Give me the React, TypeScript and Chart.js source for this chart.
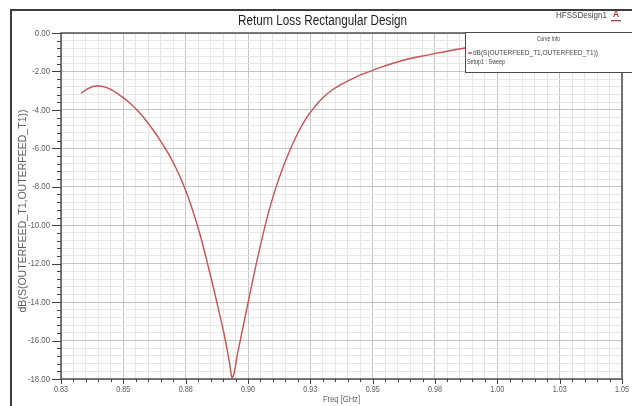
import React, { useEffect, useRef } from "react";
import { Chart, registerables } from "chart.js";

Chart.register(...registerables);

// Sweep of the return loss, frequency in GHz and S11 in dB
const FREQ_GHZ = [
  0.833, 0.8358, 0.839, 0.8423, 0.8455, 0.8487, 0.8519, 0.8551, 0.8583, 0.8615,
  0.8647, 0.8679, 0.8711, 0.8743, 0.8775, 0.8808, 0.884, 0.8872, 0.8904, 0.8924,
  0.8938, 0.896, 0.8988, 0.9016, 0.9048, 0.908, 0.9108, 0.914, 0.9168, 0.92,
  0.9235, 0.927, 0.9302, 0.9336, 0.9369, 0.9436, 0.9489, 0.9529, 0.9623, 0.969,
  0.9757, 0.987, 1.0, 1.025, 1.05,
];
const S11_DB = [
  -3.14, -2.89, -2.76, -2.8, -2.97, -3.25, -3.56, -3.95, -4.42, -4.97,
  -5.57, -6.24, -7.02, -7.96, -9.1, -10.51, -12.12, -13.84, -15.66, -17.01,
  -17.92, -16.55, -14.8, -13.05, -11.15, -9.45, -8.2, -7.0, -6.1, -5.2,
  -4.4, -3.8, -3.34, -2.98, -2.71, -2.27, -2.0, -1.8, -1.42, -1.22,
  -1.05, -0.78, -0.55, -0.27, -0.1,
];

const X_TICK_LABELS = ["0.83", "0.85", "0.88", "0.90", "0.93", "0.95", "0.98", "1.00", "1.03", "1.05"];
const Y_TICK_LABELS = ["-18.00", "-16.00", "-14.00", "-12.00", "-10.00", "-8.00", "-6.00", "-4.00", "-2.00", "0.00"];

const X_MIN = 0.825;
const X_MAX = 1.05;
const X_MINOR_STEP = 0.005;
const Y_MIN = -18;
const Y_MAX = 0;
const Y_MINOR_STEP = 0.4;
const MINOR_PER_MAJOR = 5;

const TITLE = "Return Loss Rectangular Design";
const DESIGN_NAME = "HFSSDesign1";
const X_TITLE = "Freq [GHz]";
const Y_TITLE = "dB(S(OUTERFEED_T1,OUTERFEED_T1))";
const LEGEND_HEADER = "Curve Info";
const LEGEND_TRACE = "dB(S(OUTERFEED_T1,OUTERFEED_T1))";
const LEGEND_SETUP = "Setup1 : Sweep";

const SANS = '"Liberation Sans", Arial, sans-serif';
const TRACE_COLOR = "rgb(198, 82, 82)";

// Text squeezed horizontally to a given width (narrow UI font look)
function drawFitted(ctx: any, text: string, x: number, y: number, size: number, width: number, align: string) {
  ctx.font = `${size}px ${SANS}`;
  const w = ctx.measureText(text).width || 1;
  ctx.save();
  ctx.translate(x, y);
  ctx.scale(width / w, 1);
  ctx.textAlign = align;
  ctx.textBaseline = "middle";
  ctx.fillText(text, 0, 0);
  ctx.restore();
}

function drawSqueezed(ctx: any, text: string, x: number, y: number, size: number, sx: number, align: string) {
  ctx.font = `${size}px ${SANS}`;
  ctx.save();
  ctx.translate(x, y);
  ctx.scale(sx, 1);
  ctx.textAlign = align;
  ctx.textBaseline = "middle";
  ctx.fillText(text, 0, 0);
  ctx.restore();
}

const decorations = {
  id: "hfssDecorations",
  beforeDraw(chart: any) {
    const { ctx, width, height } = chart;
    ctx.save();
    ctx.fillStyle = "#ffffff";
    ctx.fillRect(0, 0, width, height);
    ctx.restore();
  },
  afterDraw(chart: any) {
    const { ctx, chartArea: a, width, height } = chart;
    const xs = chart.scales.x;
    const ys = chart.scales.y;
    ctx.save();

    // outer frame
    ctx.strokeStyle = "#3c3c3c";
    ctx.lineWidth = 2;
    ctx.beginPath();
    ctx.moveTo(11, height + 2);
    ctx.lineTo(11, 10);
    ctx.lineTo(width + 2, 10);
    ctx.stroke();

    // plot border
    ctx.strokeStyle = "#505050";
    ctx.lineWidth = 1.5;
    ctx.strokeRect(a.left, a.top, a.right - a.left, a.bottom - a.top);

    // tick marks
    ctx.lineWidth = 1;
    ctx.strokeStyle = "#404040";
    ctx.beginPath();
    ys.ticks.forEach((_t: any, i: number) => {
      const y = Math.round(ys.getPixelForTick(i)) + 0.5;
      const len = i % MINOR_PER_MAJOR === 0 ? 9 : 4;
      ctx.moveTo(a.left - len, y);
      ctx.lineTo(a.left, y);
    });
    xs.ticks.forEach((_t: any, i: number) => {
      const x = Math.round(xs.getPixelForTick(i)) + 0.5;
      const len = i % MINOR_PER_MAJOR === 0 ? 5 : 3;
      ctx.moveTo(x, a.bottom);
      ctx.lineTo(x, a.bottom + len);
    });
    ctx.stroke();

    // tick labels
    ctx.fillStyle = "#5a5a5a";
    ys.ticks.forEach((_t: any, i: number) => {
      if (i % MINOR_PER_MAJOR !== 0) return;
      drawSqueezed(ctx, Y_TICK_LABELS[i / MINOR_PER_MAJOR], 50, ys.getPixelForTick(i), 9.5, 0.82, "right");
    });
    xs.ticks.forEach((_t: any, i: number) => {
      if (i % MINOR_PER_MAJOR !== 0) return;
      drawSqueezed(ctx, X_TICK_LABELS[i / MINOR_PER_MAJOR], xs.getPixelForTick(i), 390, 8.8, 0.82, "center");
    });

    // title and design name
    ctx.fillStyle = "#1e1e1e";
    drawFitted(ctx, TITLE, 322.5, 21.5, 14, 169, "center");
    ctx.fillStyle = "#444";
    drawFitted(ctx, DESIGN_NAME, 581.5, 16, 9, 51, "center");

    // small logo glyph
    ctx.fillStyle = "#b03a3a";
    ctx.font = `bold 9px ${SANS}`;
    ctx.textAlign = "center";
    ctx.textBaseline = "middle";
    ctx.fillText("A", 616, 15);
    ctx.fillRect(611, 20, 10, 1.2);

    // axis titles
    ctx.fillStyle = "#5e5e5e";
    drawFitted(ctx, X_TITLE, (a.left + a.right) / 2, 400, 9, 37, "center");
    ctx.save();
    ctx.translate(23.5, 211);
    ctx.rotate(-Math.PI / 2);
    drawFitted(ctx, Y_TITLE, 0, 0, 10, 203, "center");
    ctx.restore();

    // curve info box
    const bx = 465.5;
    const by = 32.5;
    ctx.fillStyle = "#ffffff";
    ctx.fillRect(bx, by, width - bx + 5, 40);
    ctx.strokeStyle = "#4a4a4a";
    ctx.lineWidth = 1;
    ctx.strokeRect(bx, by, width - bx + 5, 40);
    ctx.fillStyle = "#444";
    drawFitted(ctx, LEGEND_HEADER, 548.5, 39.5, 7, 23, "center");
    ctx.strokeStyle = TRACE_COLOR;
    ctx.lineWidth = 1.5;
    ctx.beginPath();
    ctx.moveTo(468, 53);
    ctx.lineTo(472, 53);
    ctx.stroke();
    drawFitted(ctx, LEGEND_TRACE, 473, 53, 8, 125, "left");
    drawFitted(ctx, LEGEND_SETUP, 467, 62, 7.5, 38, "left");

    ctx.restore();
  },
};

function majorMinorColor(ctx: any) {
  return ctx.index % MINOR_PER_MAJOR === 0 ? "#c4c4c4" : "#e6e6e6";
}

export default function App() {
  const canvasRef = useRef<HTMLCanvasElement | null>(null);

  useEffect(() => {
    const canvas = canvasRef.current;
    if (!canvas) return;
    const points = FREQ_GHZ.map((f, i) => ({ x: f, y: S11_DB[i] }));

    const chart = new Chart(canvas, {
      type: "line",
      data: {
        datasets: [
          {
            label: LEGEND_TRACE,
            data: points,
            borderColor: TRACE_COLOR,
            borderWidth: 1.4,
            pointRadius: 0,
            tension: 0.4,
            fill: false,
          },
        ],
      },
      options: {
        animation: false,
        responsive: false,
        events: [],
        layout: { padding: { top: 33, right: 10, left: 0, bottom: 0 } },
        plugins: {
          legend: { display: false },
          tooltip: { enabled: false },
          title: { display: false },
        },
        scales: {
          x: {
            type: "linear",
            min: X_MIN,
            max: X_MAX,
            border: { display: false },
            grid: { color: majorMinorColor, lineWidth: 1, drawTicks: false },
            ticks: { stepSize: X_MINOR_STEP, autoSkip: false, display: false },
            afterFit: (scale: any) => {
              scale.height = 27;
              scale.paddingLeft = 0;
              scale.paddingRight = 0;
            },
          },
          y: {
            type: "linear",
            min: Y_MIN,
            max: Y_MAX,
            border: { display: false },
            grid: { color: majorMinorColor, lineWidth: 1, drawTicks: false },
            ticks: { stepSize: Y_MINOR_STEP, autoSkip: false, display: false },
            afterFit: (scale: any) => {
              scale.width = 61;
              scale.paddingTop = 0;
              scale.paddingBottom = 0;
            },
          },
        },
      },
      plugins: [decorations],
    } as any);

    return () => chart.destroy();
  }, []);

  return (
    <canvas
      ref={canvasRef}
      width={632}
      height={406}
      style={{ position: "fixed", left: 0, top: 0, width: 632, height: 406, display: "block" }}
    />
  );
}
